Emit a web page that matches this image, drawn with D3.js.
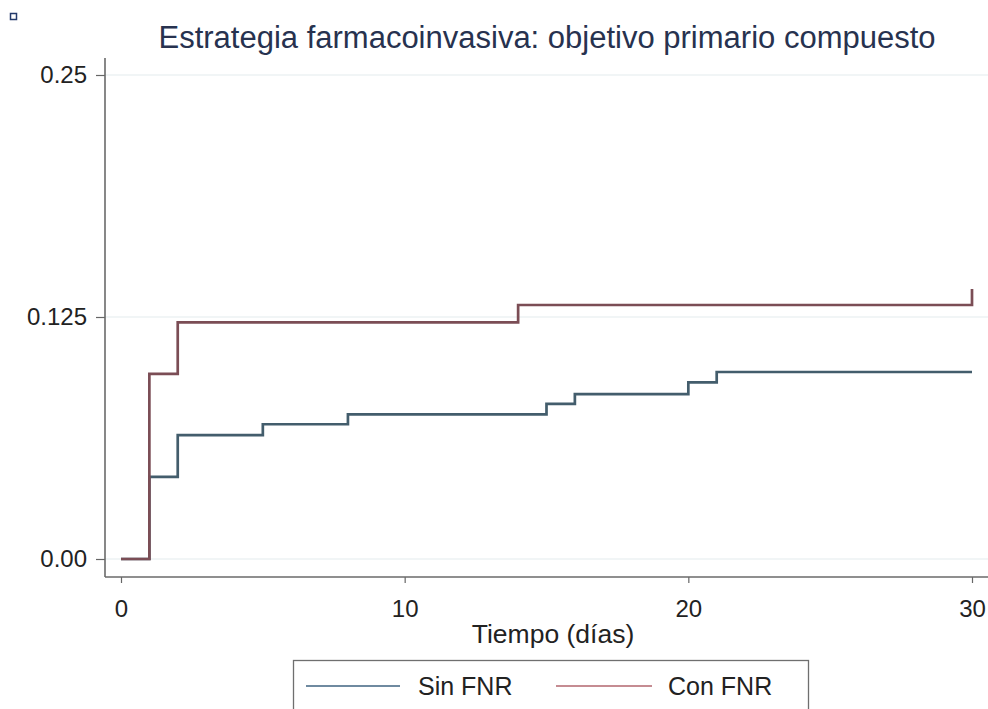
<!DOCTYPE html>
<html>
<head>
<meta charset="utf-8">
<script src="https://cdn.jsdelivr.net/npm/d3@7"></script>
<style>
  html, body { margin: 0; padding: 0; background: #ffffff; }
  svg { display: block; }
  text { font-family: "Liberation Sans", Arial, Helvetica, sans-serif; }
</style>
</head>
<body>
<svg id="chart" width="988" height="709"></svg>
<script>
// Kaplan-Meier style cumulative incidence, days 0-30
const tiempoSin = [0, 1, 2, 5, 8, 15, 16, 20, 21, 30];
const riesgoSin = [0, 0.0424, 0.0640, 0.0696, 0.0747, 0.0801, 0.0852, 0.0912, 0.0966, 0.0966];
const tiempoCon = [0, 1, 2, 14, 30];
const riesgoCon = [0, 0.0956, 0.1222, 0.1312, 0.1395];

const seriesNames = ["Sin FNR", "Con FNR"];
const yTicks = [0, 0.125, 0.25];
const yTickLabels = ["0.00", "0.125", "0.25"];
const xTicks = [0, 10, 20, 30];
const titleText = "Estrategia farmacoinvasiva: objetivo primario compuesto";
const xTitle = "Tiempo (días)";

const colorSin = "#435d6c";
const colorCon = "#7b4d55";

const svg = d3.select("#chart");

const x = d3.scaleLinear().domain([0, 30]).range([121, 972]);
const y = d3.scaleLinear().domain([0, 0.25]).range([559, 75]);

const axisX = 105;   // position of the left axis line
const axisY = 577;   // position of the bottom axis line

// small marker in the corner
svg.append("rect")
  .attr("x", 10.5).attr("y", 13.5).attr("width", 6).attr("height", 6)
  .attr("fill", "none").attr("stroke", "#243a6b").attr("stroke-width", 1.5);

// title
svg.append("text")
  .attr("x", 547).attr("y", 48)
  .attr("text-anchor", "middle")
  .attr("font-size", 31)
  .attr("fill", "#27324f")
  .text(titleText);

// horizontal gridlines
svg.append("g")
  .selectAll("line")
  .data(yTicks)
  .join("line")
  .attr("x1", axisX).attr("x2", 988)
  .attr("y1", d => y(d)).attr("y2", d => y(d))
  .attr("stroke", "#e3ecee").attr("stroke-width", 1.2);

// y axis
const gy = svg.append("g")
  .attr("transform", `translate(${axisX},0)`)
  .call(d3.axisLeft(y)
    .tickValues(yTicks)
    .tickFormat((d, i) => yTickLabels[i])
    .tickSize(9)
    .tickPadding(9)
    .tickSizeOuter(0));
gy.select(".domain").remove();
gy.selectAll(".tick line").attr("stroke", "#666").attr("stroke-width", 1.2);
gy.selectAll(".tick text")
  .attr("font-size", 24)
  .attr("font-family", "Liberation Sans, Arial, sans-serif")
  .attr("fill", "#222");
svg.append("line")
  .attr("x1", axisX).attr("x2", axisX)
  .attr("y1", 58).attr("y2", axisY)
  .attr("stroke", "#6a6a6a").attr("stroke-width", 1.6);

// x axis
const gx = svg.append("g")
  .attr("transform", `translate(0,${axisY})`)
  .call(d3.axisBottom(x)
    .tickValues(xTicks)
    .tickFormat(d3.format("d"))
    .tickSize(6)
    .tickPadding(17)
    .tickSizeOuter(0));
gx.select(".domain").remove();
gx.selectAll(".tick line").attr("stroke", "#666").attr("stroke-width", 1.2);
gx.selectAll(".tick text")
  .attr("font-size", 24)
  .attr("font-family", "Liberation Sans, Arial, sans-serif")
  .attr("fill", "#222");
svg.append("line")
  .attr("x1", axisX).attr("x2", 988)
  .attr("y1", axisY).attr("y2", axisY)
  .attr("stroke", "#6a6a6a").attr("stroke-width", 1.6);

// x axis title
svg.append("text")
  .attr("x", 553).attr("y", 643)
  .attr("text-anchor", "middle")
  .attr("font-size", 26.5)
  .attr("fill", "#222")
  .text(xTitle);

// step curves
const step = d3.line()
  .x(d => x(d[0]))
  .y(d => y(d[1]))
  .curve(d3.curveStepAfter);

svg.append("path")
  .datum(tiempoSin.map((t, i) => [t, riesgoSin[i]]))
  .attr("d", step)
  .attr("fill", "none")
  .attr("stroke", colorSin)
  .attr("stroke-width", 2.7);

svg.append("path")
  .datum(tiempoCon.map((t, i) => [t, riesgoCon[i]]))
  .attr("d", step)
  .attr("fill", "none")
  .attr("stroke", colorCon)
  .attr("stroke-width", 2.7);

// legend
const legend = svg.append("g");
legend.append("rect")
  .attr("x", 293.5).attr("y", 660.5).attr("width", 515).attr("height", 70)
  .attr("fill", "#ffffff").attr("stroke", "#6f6f6f").attr("stroke-width", 1.3);

const legendItems = [
  { name: seriesNames[0], color: "#6f8aa0", x1: 306, x2: 400, tx: 418 },
  { name: seriesNames[1], color: "#c58c92", x1: 556, x2: 652, tx: 668 }
];
legendItems.forEach(it => {
  legend.append("line")
    .attr("x1", it.x1).attr("x2", it.x2)
    .attr("y1", 686).attr("y2", 686)
    .attr("stroke", it.color).attr("stroke-width", 2.2);
  legend.append("text")
    .attr("x", it.tx).attr("y", 695)
    .attr("font-size", 25)
    .attr("fill", "#222")
    .text(it.name);
});
</script>
</body>
</html>
